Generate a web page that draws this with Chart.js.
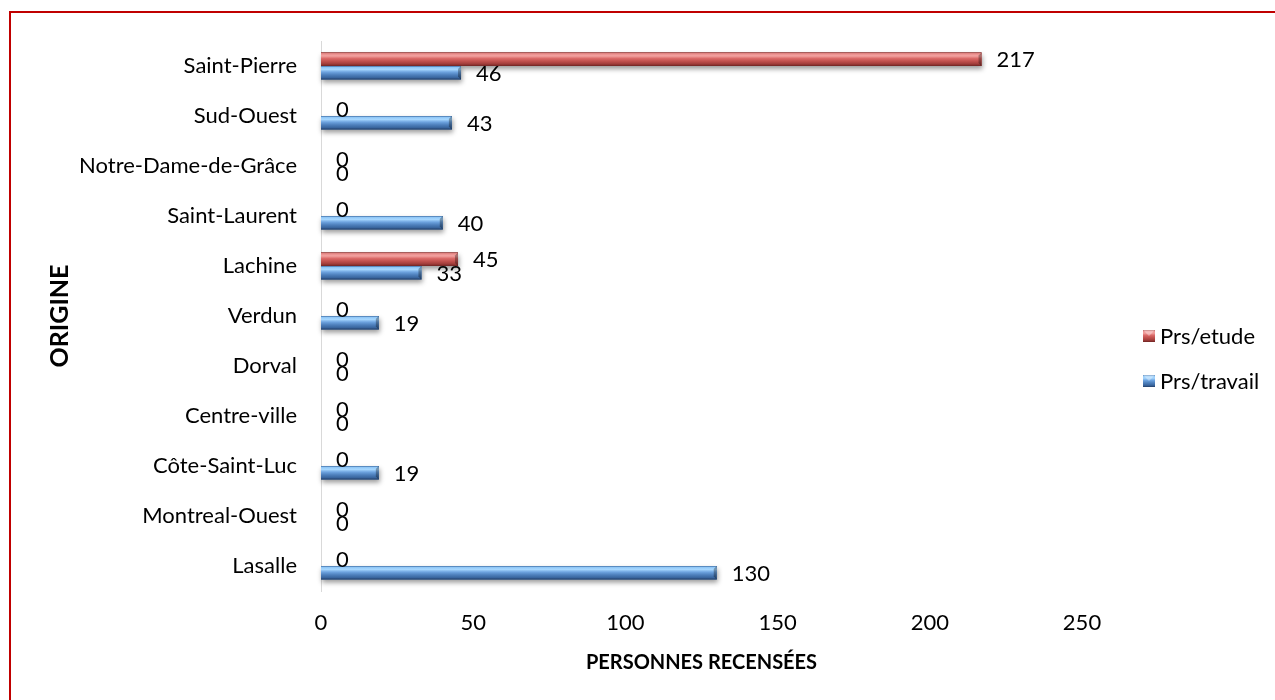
<!DOCTYPE html>
<html><head><meta charset="utf-8">
<script src="https://cdn.jsdelivr.net/npm/chart.js@4.4.1/dist/chart.umd.min.js"></script>
<style>
html,body{margin:0;padding:0;background:#fff;overflow:hidden;width:1275px;height:700px}
#frame{position:absolute;left:9px;top:11px;width:1400px;height:800px;border:2px solid #c00000;box-sizing:border-box}
#c{position:absolute;left:0;top:0}
</style></head><body>
<div id="frame"></div>
<canvas id="c" width="1275" height="700"></canvas>
<script>
// ---- data ----
const categories = ['Saint-Pierre','Sud-Ouest','Notre-Dame-de-Grâce','Saint-Laurent','Lachine','Verdun','Dorval','Centre-ville','Côte-Saint-Luc','Montreal-Ouest','Lasalle'];
const prsEtude   = [217, 0, 0, 0, 45, 0, 0, 0, 0, 0, 0];
const prsTravail = [46, 43, 0, 40, 33, 19, 0, 0, 19, 0, 130];
const seriesNames = ['Prs/etude', 'Prs/travail'];
const xTicks = [0, 50, 100, 150, 200, 250];
const xTitle = 'PERSONNES RECENSÉES';
const yTitle = 'ORIGINE';

// ---- styles ----
const FONT = "Lato, 'Liberation Sans', sans-serif";
const FS = 22;
const palettes = [
  {base:'#c0504d', stops:[[0,'#8e3533'],[0.08,'#e88a88'],[0.25,'#f3a3a1'],[0.45,'#d96866'],[0.65,'#c0504d'],[0.85,'#a03c3a'],[1,'#6e2422']]},
  {base:'#4f81bd', stops:[[0,'#2f5b93'],[0.08,'#8cc4f5'],[0.25,'#a8d8ff'],[0.45,'#6da3df'],[0.65,'#4f81bd'],[0.85,'#3a67a0'],[1,'#243f68']]}
];
function grad(ctx, top, h, pal){
  const g = ctx.createLinearGradient(0, top, 0, top + h);
  pal.stops.forEach(s => g.addColorStop(s[0], s[1]));
  return g;
}

const barStyle = {
  id: 'barStyle',
  beforeDatasetsDraw(chart){
    const ctx = chart.ctx;
    ctx.save();
    chart.data.datasets.forEach((ds, i) => {
      chart.getDatasetMeta(i).data.forEach(el => {
        const p = el.getProps(['x','y','base','height'], true);
        const left = Math.min(p.base, p.x), w = Math.abs(p.x - p.base);
        if (w < 1) return;
        ctx.shadowColor = 'rgba(0,0,0,0.4)';
        ctx.shadowBlur = 5;
        ctx.shadowOffsetX = 1;
        ctx.shadowOffsetY = 3;
        ctx.fillStyle = '#888';
        ctx.fillRect(left, p.y - p.height/2, w, p.height);
      });
    });
    ctx.restore();
  },
  afterDatasetsDraw(chart){
    const ctx = chart.ctx;
    ctx.save();
    chart.data.datasets.forEach((ds, i) => {
      const pal = palettes[i];
      chart.getDatasetMeta(i).data.forEach(el => {
        const p = el.getProps(['x','y','base','height'], true);
        const left = Math.min(p.base, p.x), w = Math.abs(p.x - p.base);
        if (w < 1) return;
        const top = p.y - p.height/2;
        ctx.fillStyle = grad(ctx, top, p.height, pal);
        ctx.fillRect(left, top, w, p.height);
        // bevelled end
        const e = 3;
        ctx.fillStyle = 'rgba(0,0,0,0.3)';
        ctx.beginPath();
        ctx.moveTo(left + w, top); ctx.lineTo(left + w - e, top + e);
        ctx.lineTo(left + w - e, top + p.height - e); ctx.lineTo(left + w, top + p.height);
        ctx.closePath(); ctx.fill();
      });
    });
    // value labels
    ctx.fillStyle = '#000';
    ctx.font = FS + 'px ' + FONT;
    ctx.textAlign = 'left';
    ctx.textBaseline = 'middle';
    chart.data.datasets.forEach((ds, i) => {
      chart.getDatasetMeta(i).data.forEach((el, j) => {
        const p = el.getProps(['x','y'], true);
        ctx.fillText(String(ds.data[j]), p.x + 15, p.y + 1);
      });
    });
    ctx.restore();
  },
  afterDraw(chart){
    const ctx = chart.ctx;
    ctx.save();
    const lx = 1143, ys = [336, 381];
    chart.data.datasets.forEach((ds, i) => {
      const y = ys[i];
      const pal = palettes[i];
      ctx.fillStyle = grad(ctx, y - 6, 12, pal);
      ctx.fillRect(lx, y - 6, 12, 12);
      ctx.fillStyle = 'rgba(255,255,255,0.35)';
      ctx.beginPath(); ctx.moveTo(lx, y-6); ctx.lineTo(lx+12, y-6); ctx.lineTo(lx+6, y); ctx.closePath(); ctx.fill();
      ctx.fillStyle = '#000';
      ctx.font = FS + 'px ' + FONT;
      ctx.textAlign = 'left';
      ctx.textBaseline = 'middle';
      ctx.fillText(ds.label, lx + 17, y + 1);
    });
    ctx.restore();
  }
};

new Chart(document.getElementById('c'), {
  type: 'bar',
  data: {
    labels: categories,
    datasets: [
      {label: seriesNames[0], data: prsEtude, backgroundColor: palettes[0].base},
      {label: seriesNames[1], data: prsTravail, backgroundColor: palettes[1].base}
    ]
  },
  options: {
    indexAxis: 'y',
    responsive: false,
    animation: false,
    devicePixelRatio: 1,
    layout: {padding: {top: 41, right: 193, left: 0, bottom: 0}},
    datasets: {bar: {categoryPercentage: 0.54, barPercentage: 1.0, borderWidth: 0}},
    plugins: {legend: {display: false}, tooltip: {enabled: false}},
    scales: {
      x: {
        min: 0, max: 250,
        afterBuildTicks(s){ s.ticks = xTicks.map(v => ({value: v})); },
        afterFit(s){ s.height = 109; },
        grid: {display: false, drawTicks: false},
        border: {display: false},
        ticks: {color: '#000', padding: 19, font: {family: FONT, size: FS}},
        title: {display: true, text: xTitle, color: '#000', padding: {top: 0, bottom: 25}, font: {family: FONT, size: 20, weight: 'bold'}}
      },
      y: {
        afterFit(s){ s.width = 321; },
        grid: {display: true, color: 'rgba(0,0,0,0)', drawTicks: false},
        border: {display: true, color: '#d9d9d9', width: 1},
        ticks: {color: '#000', padding: 24, font: {family: FONT, size: FS}},
        title: {display: true, text: yTitle, color: '#000', padding: {top: 45, bottom: 0}, font: {family: FONT, size: 25, weight: 'bold'}}
      }
    }
  },
  plugins: [barStyle]
});
</script>
</body></html>
